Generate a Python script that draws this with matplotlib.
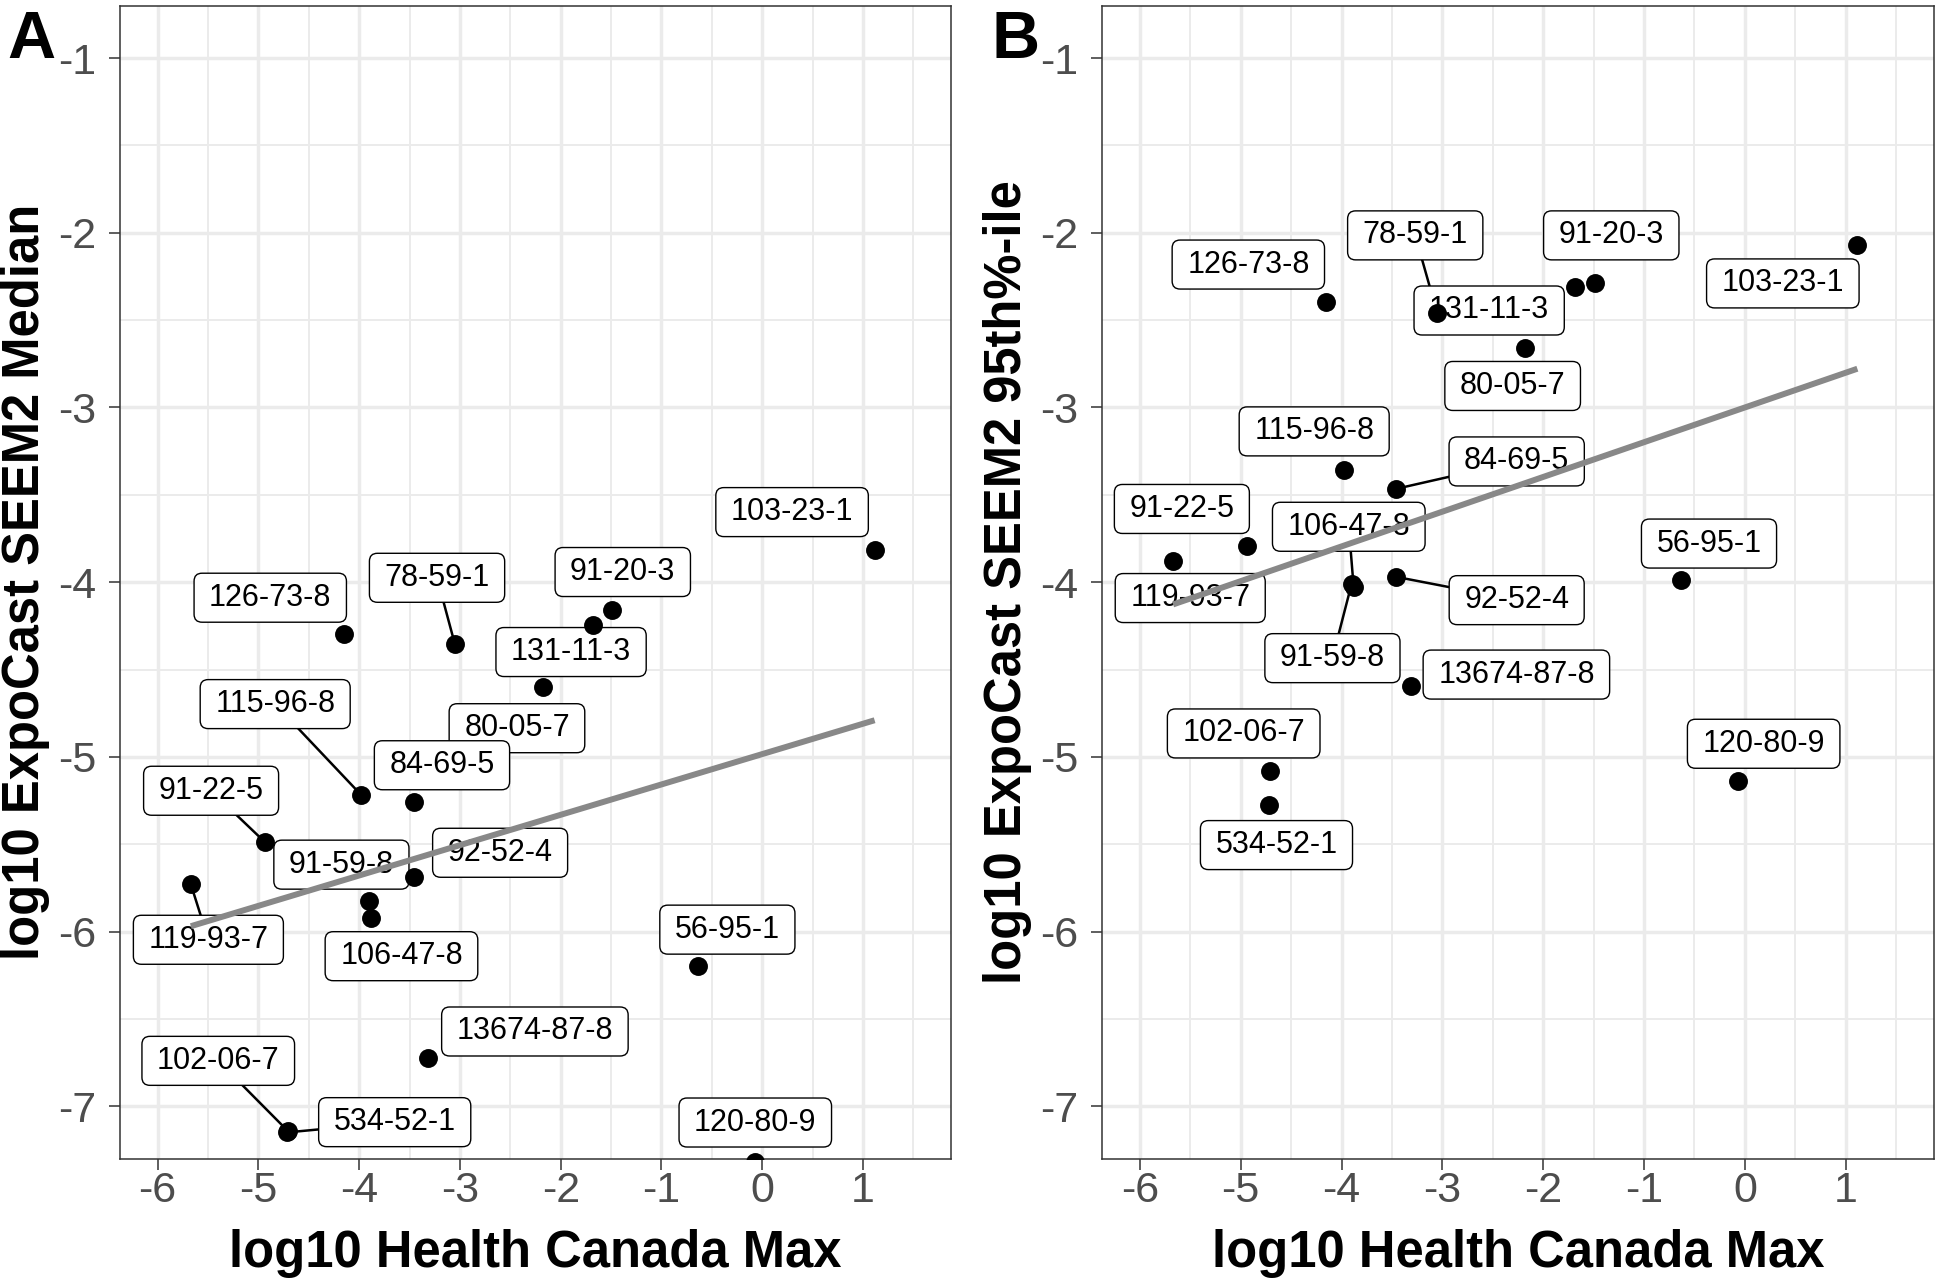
import numpy as np
import matplotlib
matplotlib.use("Agg")
import matplotlib.pyplot as plt
from matplotlib.patches import FancyBboxPatch
from matplotlib.lines import Line2D
from matplotlib.transforms import IdentityTransform

plt.rcParams["font.family"] = ["Liberation Sans", "DejaVu Sans"]
plt.rcParams["axes.unicode_minus"] = False

# chemicals (CAS numbers)
cas = ["103-23-1", "91-20-3", "131-11-3", "80-05-7", "78-59-1", "126-73-8",
       "115-96-8", "84-69-5", "91-22-5", "119-93-7", "92-52-4", "91-59-8",
       "106-47-8", "56-95-1", "13674-87-8", "102-06-7", "534-52-1", "120-80-9"]

# log10 Health Canada Max
hc_max = [1.115, -1.49, -1.68, -2.18, -3.05, -4.15,
          -3.98, -3.46, -4.935, -5.67, -3.455, -3.90,
          -3.88, -0.633, -3.315, -4.71, -4.72, -0.068]

# log10 ExpoCast SEEM2 median
seem_median = [-3.816, -4.159, -4.243, -4.601, -4.355, -4.294,
               -5.218, -5.260, -5.488, -5.729, -5.687, -5.823,
               -5.922, -6.196, -6.724, -7.14, -7.15, -7.32]

# log10 ExpoCast SEEM2 95th percentile
seem_p95 = [-2.072, -2.289, -2.312, -2.660, -2.462, -2.399,
            -3.356, -3.466, -3.792, -3.877, -3.970, -4.01,
            -4.025, -3.986, -4.596, -5.082, -5.277, -5.139]

# repelled label positions (data units)
lab_a_x = [0.296, -1.384, -1.897, -2.434, -3.227, -4.882,
           -4.833, -3.178, -5.469, -5.496, -2.601, -4.176,
           -3.580, -0.346, -2.256, -5.398, -3.647, -0.069]
lab_a_y = [-3.599, -3.942, -4.400, -4.836, -3.975, -4.089,
           -4.698, -5.048, -5.194, -6.047, -5.549, -5.617,
           -6.141, -5.989, -6.572, -6.740, -7.091, -7.093]
lab_b_x = [0.376, -1.325, -2.536, -2.303, -3.269, -4.924,
           -4.271, -2.263, -5.583, -5.500, -2.263, -4.090,
           -3.928, -0.356, -2.266, -4.970, -4.645, 0.186]
lab_b_y = [-2.290, -2.015, -2.445, -2.877, -2.015, -2.182,
           -3.137, -3.309, -3.581, -4.091, -4.103, -4.435,
           -3.683, -3.779, -4.529, -4.866, -5.505, -4.925]

x_ticks = [-6, -5, -4, -3, -2, -1, 0, 1]
y_ticks = [-7, -6, -5, -4, -3, -2, -1]

W, H = 1936, 1283
fig = plt.figure(figsize=(W / 100, H / 100), dpi=100)

ax_a = fig.add_axes([119.8 / W, 0.0969, 831.4 / W, 0.8987])
ax_b = fig.add_axes([1102 / W, 0.0969, 832 / W, 0.8987])


def setup_axes(ax):
    ax.set_xlim(-6.375, 1.875)
    ax.set_ylim(-7.3, -0.7)
    ax.set_xticks(x_ticks)
    ax.set_yticks(y_ticks)
    ax.set_xticks(np.arange(-5.5, 1.6, 1.0), minor=True)
    ax.set_yticks(np.arange(-6.5, -1.0, 1.0), minor=True)
    ax.set_axisbelow(True)
    ax.grid(which="major", color="#EBEBEB", lw=2.5)
    ax.grid(which="minor", color="#EBEBEB", lw=1.4)
    ax.tick_params(which="major", length=8, width=1.1, color="#333333",
                   labelsize=31, labelcolor="#4D4D4D")
    ax.tick_params(axis="x", pad=1)
    ax.tick_params(axis="y", pad=9)
    ax.tick_params(which="minor", length=0)
    for s in ax.spines.values():
        s.set_color("#333333")
        s.set_linewidth(1.1)


def draw_panel(ax, y, lx, ly):
    setup_axes(ax)
    x = np.array(hc_max)
    y = np.array(y)
    ax.scatter(x, y, s=185, color="black", zorder=4, linewidths=0)
    coef = np.polyfit(x, y, 1)
    xs = np.array([x.min(), x.max()])
    ax.plot(xs, np.polyval(coef, xs), color="#888888", lw=4.3, zorder=5,
            solid_capstyle="butt")
    texts = []
    for name, tx, ty in zip(cas, lx, ly):
        t = ax.text(tx, ty, name, ha="center", va="center", fontsize=22,
                    color="black", zorder=3.5)
        texts.append(t)
    return x, y, texts


def add_boxes(ax, x, y, texts, renderer):
    for t, px, py in zip(texts, x, y):
        ext = t.get_window_extent(renderer)
        cx, cy = (ext.x0 + ext.x1) / 2, (ext.y0 + ext.y1) / 2
        w, h = ext.width + 30, 49
        x0, y0 = cx - w / 2, cy - h / 2
        box = FancyBboxPatch((x0, y0), w, h,
                             boxstyle="round,pad=0,rounding_size=8",
                             fc="white", ec="black", lw=1.0, zorder=3,
                             transform=IdentityTransform())
        ax.add_artist(box)
        # segment from label to point when they are apart
        qx, qy = ax.transData.transform((px, py))
        dx = max(x0 - qx, 0, qx - (x0 + w))
        dy = max(y0 - qy, 0, qy - (y0 + h))
        if np.hypot(dx, dy) > 26:
            vx, vy = qx - cx, qy - cy
            f = min((w / 2) / abs(vx) if vx else np.inf,
                    (h / 2) / abs(vy) if vy else np.inf)
            sx, sy = cx + f * vx, cy + f * vy
            seg = Line2D([sx, qx], [sy, qy], color="black", lw=1.8,
                         zorder=2.5, transform=IdentityTransform())
            ax.add_artist(seg)


xa, ya, ta = draw_panel(ax_a, seem_median, lab_a_x, lab_a_y)
xb, yb, tb = draw_panel(ax_b, seem_p95, lab_b_x, lab_b_y)

# axis titles and panel letters
for cxp, ylab in [(26, "log10 ExpoCast SEEM2 Median"),
                  (1007, "log10 ExpoCast SEEM2 95th%-ile")]:
    fig.text(cxp / W, 0.0969 + 0.8987 / 2, ylab, rotation=90, ha="center",
             va="center", fontsize=36.5, fontweight="bold")
for cxp in [535.5, 1518]:
    fig.text(cxp / W, 1 - 1267 / H, "log10 Health Canada Max", ha="center",
             va="baseline", fontsize=36.5, fontweight="bold")
fig.text(7 / W, 1 - 58 / H, "A", ha="left", va="baseline", fontsize=48,
         fontweight="bold")
fig.text(991 / W, 1 - 58 / H, "B", ha="left", va="baseline", fontsize=48,
         fontweight="bold")

fig.canvas.draw()
r = fig.canvas.get_renderer()
add_boxes(ax_a, xa, ya, ta, r)
add_boxes(ax_b, xb, yb, tb, r)

fig.savefig("out.png", dpi=100, facecolor="white")
